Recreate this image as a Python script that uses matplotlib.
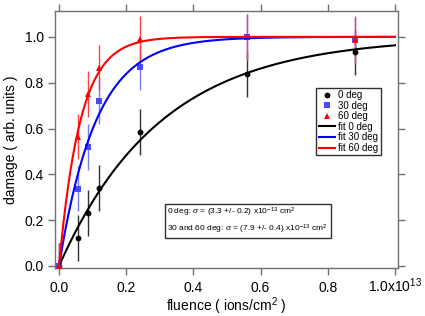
import numpy as np
import matplotlib
matplotlib.use('Agg')
import matplotlib.pyplot as plt

font = {'family': 'Liberation Sans', 'size': 10}
matplotlib.rc('font', **font)
matplotlib.rcParams['mathtext.fontset'] = 'custom'
matplotlib.rcParams['mathtext.rm'] = 'Liberation Sans'
matplotlib.rcParams['mathtext.it'] = 'Liberation Sans:italic'

# fluence in units of 1e13 ions/cm^2
fluence = [0.0, 0.055, 0.087, 0.12, 0.24, 0.56, 0.88]
dmg0 = [0.0, 0.122, 0.23, 0.342, 0.584, 0.838, 0.935]
dmg30 = [0.0, 0.338, 0.518, 0.72, 0.869, 1.0, 0.99]
dmg60 = [0.0, 0.565, 0.751, 0.866, 0.991, 1.0, 0.985]
err = [0.1, 0.1, 0.1, 0.1, 0.1, 0.1, 0.1]

# fitted cross sections (1e-13 cm^2), 30/60 deg scaled by 1/cos(angle)
sigma0 = 3.3
sigma3060 = 7.9
angles = [0, 30, 60]

xticks = [0.0, 0.2, 0.4, 0.6, 0.8, 1.0]
xticklabels = ['0.0', '0.2', '0.4', '0.6', '0.8', '1.0x10$^{13}$']
yticks = [0.0, 0.2, 0.4, 0.6, 0.8, 1.0]

fig = plt.figure(figsize=(4.25, 3.16), dpi=100)
ax = fig.add_axes([0.1294, 0.1519, 0.8071, 0.8133])

spine_col = '#707070'
series = [
    (dmg0, 'o', 'black', '#303030', 4.2, '0 deg'),
    (dmg30, 's', '#4848ff', '#7878ff', 4.2, '30 deg'),
    (dmg60, '^', 'red', '#ff4040', 5.0, '60 deg'),
]
handles = []
labels = []
for d, mk, c, ec, ms, lab in series:
    h = ax.errorbar(fluence, d, yerr=err, fmt=mk, color=c, ecolor=ec, markersize=ms,
                    elinewidth=1.0, capsize=2.3, capthick=1.0,
                    markeredgewidth=0, zorder=3)
    handles.append(h[0])
    labels.append(lab)

xf = np.linspace(0, 1.0, 300)
fitcols = ['black', 'blue', 'red']
for a, fc in zip(angles, fitcols):
    s = sigma0 if a == 0 else sigma3060 / np.cos(np.radians(a))
    l, = ax.plot(xf, 1 - np.exp(-s * xf), color=fc, lw=1.5, zorder=4)
    handles.append(l)
    labels.append('fit %d deg' % a)

ax.set_xlim(-0.012, 1.009)
ax.set_ylim(-0.009, 1.113)
ax.set_xticks(xticks)
ax.set_xticklabels(xticklabels, va='baseline')
ax.set_yticks(yticks)
ax.set_yticklabels(['%.1f' % v for v in yticks])
ax.tick_params(direction='out', length=5, width=1, color=spine_col, pad=3,
               top=True, right=True, labeltop=False, labelright=False)
ax.tick_params(axis='x', pad=12.5)
for s in ax.spines.values():
    s.set_color(spine_col)
    s.set_linewidth(1.0)

ax.set_xlabel('fluence ( ions/cm$^2$ )', va='baseline')
ax.xaxis.set_label_coords(0.5, -0.168)
ax.set_ylabel('damage ( arb. units )', labelpad=5)

leg = ax.legend(handles, labels, loc='upper left', bbox_to_anchor=(0.762, 0.702), fontsize=7,
                fancybox=False, framealpha=1, edgecolor='#303030',
                handlelength=1.65, handletextpad=0.35, borderpad=0.25,
                labelspacing=0.06, borderaxespad=0)
leg.get_frame().set_linewidth(1.0)

txt = ('0 deg: $\\sigma$ = (3.3 +/- 0.2) x10$^{-13}$ cm$^2$\n'
       '30 and 60 deg: $\\sigma$ = (7.9 +/- 0.4) x10$^{-13}$ cm$^2$')
ax.text(0.327, 0.183, txt, transform=ax.transAxes, fontsize=6, va='center', ha='left',
        linespacing=1.35,
        bbox=dict(boxstyle='square,pad=0.3', facecolor='white', edgecolor='#303030', linewidth=1.0))

fig.savefig('out.png', dpi=100)
